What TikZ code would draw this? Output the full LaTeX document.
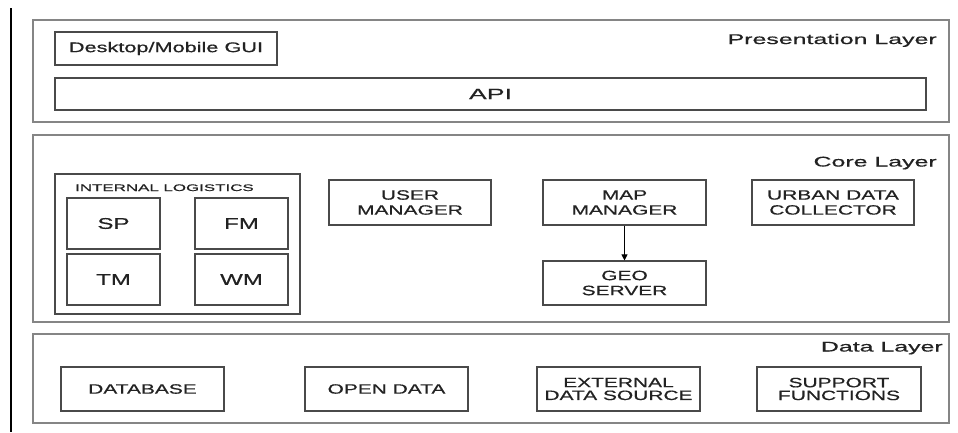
\documentclass[tikz,border=0pt]{standalone}
\usepackage{fontspec}
\usetikzlibrary{arrows.meta}
\newfontfamily\bodyfont[FakeStretch=1.55,FakeBold=0.6]{Liberation Sans}
\newfontfamily\titlefont[FakeStretch=1.78,FakeBold=0.6]{Liberation Sans}
\definecolor{txtc}{HTML}{222222}
\definecolor{outerc}{HTML}{858585}
\definecolor{innerc}{HTML}{4A4A4A}
\tikzset{
  layerbox/.style={draw=outerc, line width=1.6pt, inner sep=0pt},
  compbox/.style={draw=innerc, line width=1.1pt, inner sep=0pt, text=txtc, align=center,
    font=\bodyfont\fontsize{13.5}{15}\selectfont},
  databox/.style={compbox, font=\bodyfont\fontsize{13.5}{12.8}\selectfont},
  bigbox/.style={compbox, font=\bodyfont\fontsize{15.5}{17}\selectfont},
  layertitle/.style={anchor=base east, inner sep=0pt, text=txtc, font=\titlefont\fontsize{14}{16}\selectfont},
}
\begin{document}
\begin{tikzpicture}[x=1pt,y=-1pt]
\useasboundingbox (0,0) rectangle (958,432);
\fill[white] (0,0) rectangle (958,432);
% left rule
\coordinate (lt) at (11,8);
\coordinate (lb) at (11,432);
\draw[line width=1.6pt, black] (lt) -- (lb);

% Presentation layer
\node[layerbox, minimum width=916pt, minimum height=102pt] (pres) at (491,71) {};
\node[layertitle] (prest) at (937,44) {Presentation Layer};
\node[compbox, minimum width=222pt, minimum height=33pt, font=\bodyfont\fontsize{14}{16}\selectfont] (gui) at (166,48.5) {Desktop/Mobile GUI};
\node[compbox, minimum width=871pt, minimum height=32pt, font=\titlefont\fontsize{15}{17}\selectfont] (api) at (490.5,94) {API};

% Core layer
\node[layerbox, minimum width=916pt, minimum height=187pt] (core) at (491,228.5) {};
\node[layertitle] (coret) at (937,166.5) {Core Layer};
\node[compbox, minimum width=245pt, minimum height=140pt] (il) at (177.5,244) {};
\node[anchor=base west, inner sep=0pt, text=txtc, font=\titlefont\fontsize{9.5}{11}\selectfont] (ilt) at (75,191) {INTERNAL LOGISTICS};
\node[bigbox, minimum width=93pt, minimum height=51pt] (sp) at (113.5,223.5) {SP};
\node[bigbox, minimum width=93pt, minimum height=51pt] (fm) at (241.5,223.5) {FM};
\node[bigbox, minimum width=93pt, minimum height=51pt] (tm) at (113.5,279.5) {TM};
\node[bigbox, minimum width=93pt, minimum height=51pt] (wm) at (241.5,279.5) {WM};
\node[compbox, minimum width=162pt, minimum height=45pt] (user) at (410,202.5) {USER\\MANAGER};
\node[compbox, minimum width=163pt, minimum height=45pt] (map) at (624.5,202.5) {MAP\\MANAGER};
\node[compbox, minimum width=163pt, minimum height=44pt] (geo) at (624.5,283) {GEO\\SERVER};
\node[compbox, minimum width=162pt, minimum height=45pt] (urban) at (833,202.5) {URBAN DATA\\COLLECTOR};
\draw[line width=1pt, black, -{Triangle[width=6pt,length=6pt]}] (map.south) -- (geo.north);

% Data layer
\node[layerbox, minimum width=916pt, minimum height=89pt] (data) at (491,378.5) {};
\node[layertitle] (datat) at (943,351.5) {Data Layer};
\node[databox, minimum width=163pt, minimum height=44pt] (db) at (142.5,389) {DATABASE};
\node[databox, minimum width=163pt, minimum height=44pt] (open) at (386.5,389) {OPEN DATA};
\node[databox, minimum width=163pt, minimum height=44pt] (ext) at (618.5,389) {EXTERNAL\\DATA SOURCE};
\node[databox, minimum width=164pt, minimum height=44pt] (sup) at (839,389) {SUPPORT\\FUNCTIONS};
\end{tikzpicture}
\end{document}
